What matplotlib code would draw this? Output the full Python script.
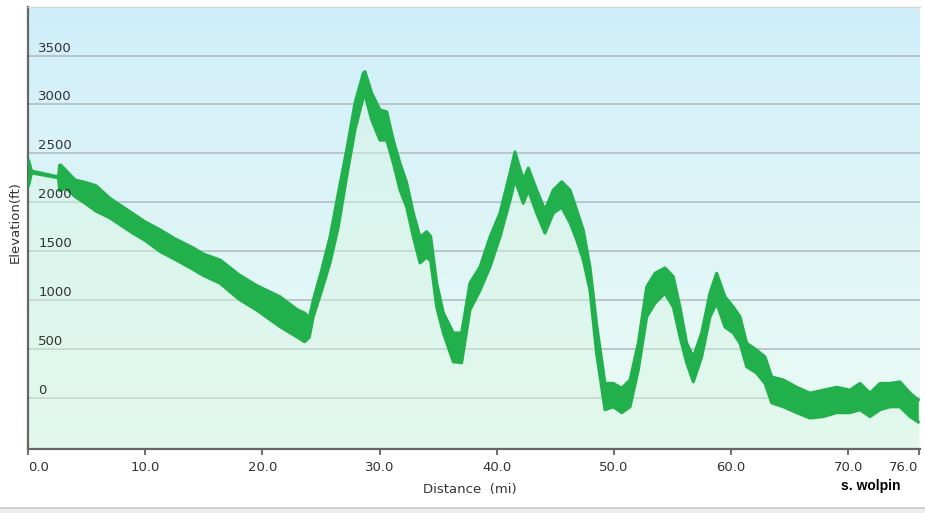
import numpy as np
import matplotlib
matplotlib.use("Agg")
import matplotlib.pyplot as plt
from matplotlib import transforms

# ---- data ----
distance_mi = [0.0, 0.05, 0.3, 2.6, 2.7, 2.8, 3.2, 4.0, 5.0, 5.8, 7.0, 8.0, 9.0, 10.0,
               11.3, 12.5, 14.0, 15.0, 16.4, 18.0, 19.5, 21.5, 23.0, 23.6, 24.0, 24.34,
               25.06, 25.77, 26.48, 27.19, 27.90, 28.61, 28.75, 29.33, 30.03, 30.61,
               31.17, 31.74, 32.31, 32.88, 33.45, 34.02, 34.36, 34.87, 35.44, 36.29,
               37.00, 37.71, 38.57, 39.42, 40.27, 41.13, 41.55, 42.26, 42.69, 43.40,
               44.11, 44.82, 45.54, 46.25, 46.82, 47.38, 47.95, 48.52, 49.23, 49.94,
               50.66, 51.37, 52.07, 52.79, 53.50, 54.35, 55.06, 55.63, 56.20, 56.77,
               57.48, 58.19, 58.76, 59.47, 60.18, 60.75, 61.32, 62.17, 62.88, 63.46,
               64.45, 65.59, 66.72, 67.85, 69.00, 70.14, 70.99, 71.84, 72.70, 73.55,
               74.40, 75.26, 75.96]
elev_low_ft = [2170, 2170, 2300, 2250, 2120, 2120, 2150, 2060, 1980, 1910, 1840, 1760, 1680, 1610,
               1495, 1420, 1320, 1250, 1172, 1010, 900, 729, 620, 575, 620, 830,
               1100, 1380, 1750, 2260, 2740, 3075, 3100, 2840, 2635, 2635,
               2400, 2125, 1950, 1645, 1380, 1440, 1400, 930, 665, 370,
               360, 900, 1100, 1340, 1645, 2020, 2230, 1990, 2125, 1890,
               1685, 1890, 1950, 1790, 1615, 1410, 1100, 450, -120, -90,
               -150, -90, 285, 830, 970, 1070, 930, 625, 360, 165,
               420, 830, 970, 725, 665, 560, 320, 255, 150, -50,
               -90, -150, -205, -190, -150, -150, -120, -190, -120, -90,
               -90, -190, -245]
elev_high_ft = [2430, 2430, 2320, 2260, 2380, 2380, 2330, 2230, 2200, 2170, 2040, 1960, 1880, 1800,
                1717, 1630, 1540, 1470, 1410, 1260, 1150, 1035, 900, 869, 820, 1000,
                1310, 1645, 2095, 2535, 3015, 3320, 3335, 3115, 2945, 2925,
                2635, 2400, 2200, 1890, 1645, 1700, 1650, 1175, 870, 665,
                665, 1175, 1340, 1645, 1890, 2300, 2515, 2230, 2350, 2125,
                1920, 2125, 2210, 2125, 1920, 1715, 1340, 750, 150, 150,
                100, 185, 560, 1135, 1275, 1330, 1240, 930, 560, 420,
                665, 1075, 1275, 1035, 930, 830, 560, 490, 420, 215,
                185, 110, 50, 80, 110, 80, 150, 50, 150, 150,
                165, 50, -20]
y_ticks = [0, 500, 1000, 1500, 2000, 2500, 3000, 3500]
x_ticks = [0, 10, 20, 30, 40, 50, 60, 70, 76]
x_tick_labels = ["0.0", "10.0", "20.0", "30.0", "40.0", "50.0", "60.0", "70.0", "76.0"]

W, H = 925, 513
fig = plt.figure(figsize=(W / 100, H / 100), dpi=100)
fig.patch.set_facecolor("white")

left_px, bottom_px, top_px = 28, 449, 7
x_max = 76.1
px_per_mi = 11.72
right_px = left_px + x_max * px_per_mi
ax = fig.add_axes([left_px / W, 1 - bottom_px / H, (right_px - left_px) / W, (bottom_px - top_px) / H])
y_min, y_max = -521, 3996
ax.set_xlim(0, x_max)
ax.set_ylim(y_min, y_max)

# background gradient
grad = np.linspace(0, 1, 256).reshape(-1, 1)
top_c = np.array([0xd0, 0xee, 0xfa]) / 255
bot_c = np.array([0xec, 0xfc, 0xf4]) / 255
img = top_c[None, None, :] * (1 - grad[:, :, None]) + bot_c[None, None, :] * grad[:, :, None]
ax.imshow(img, extent=[0, x_max, y_min, y_max], aspect="auto", origin="upper", zorder=0)

# grid
for t in y_ticks:
    ax.axhline(t, color="#b4c3c6", lw=1.3, zorder=1)

green = "#22b04c"
d = np.array(distance_mi)
lo = np.array(elev_low_ft)
hi = np.array(elev_high_ft)
ax.fill_between(d, y_min, lo, color="#d8f5e4", alpha=0.45, lw=0, zorder=2)
ax.fill_between(d, lo, hi, color=green, lw=0, zorder=3)
ax.plot(d, lo, color=green, lw=2.2, zorder=3, solid_joinstyle="round")
ax.plot(d, hi, color=green, lw=2.2, zorder=3, solid_joinstyle="round")

# y tick labels inside the plot
ax.set_yticks([])
off = transforms.offset_copy(ax.transData, fig=fig, x=0, y=4, units="dots")
blend = transforms.blended_transform_factory(ax.transAxes, off)
for t in y_ticks:
    ax.text(0.0115, t, str(t), transform=blend, ha="left", va="baseline",
            fontsize=9.5, color="#333333", family="DejaVu Sans", zorder=4)

# x ticks
ax.set_xticks(x_ticks)
ax.set_xticklabels(x_tick_labels, fontsize=9.5, color="#333333", family="DejaVu Sans")
ax.tick_params(axis="x", direction="out", length=4.5, width=1.2, color="#555555", pad=4)
labs = ax.get_xticklabels()
labs[0].set_horizontalalignment("left")
labs[-1].set_horizontalalignment("right")

for s in ["left", "bottom"]:
    ax.spines[s].set_color("#666666")
    ax.spines[s].set_linewidth(1.6)
ax.spines["top"].set_color("#d6d6d6")
ax.spines["top"].set_linewidth(1.0)
ax.spines["right"].set_visible(False)

fig.text(15 / W, 1 - 222 / H, "Elevation(ft)", rotation=90, ha="center", va="center",
         fontsize=9.5, color="#333333", family="DejaVu Sans")
fig.text(470 / W, 1 - 490 / H, "Distance  (mi)", ha="center", va="center",
         fontsize=9.5, color="#333333", family="DejaVu Sans")
fig.text(871 / W, 1 - 486 / H, "s. wolpin", ha="center", va="center",
         fontsize=10, fontweight="bold", color="black", family="Liberation Sans")

# bottom frame strip
fig.patches.append(plt.Rectangle((0, 0), 1, 5 / H, transform=fig.transFigure,
                                 facecolor="#eeeeee", edgecolor="none"))
fig.lines.append(plt.Line2D([0, 1], [5 / H, 5 / H], transform=fig.transFigure,
                            color="#c8c8c8", lw=1.2))

fig.savefig("out.png", dpi=100)
